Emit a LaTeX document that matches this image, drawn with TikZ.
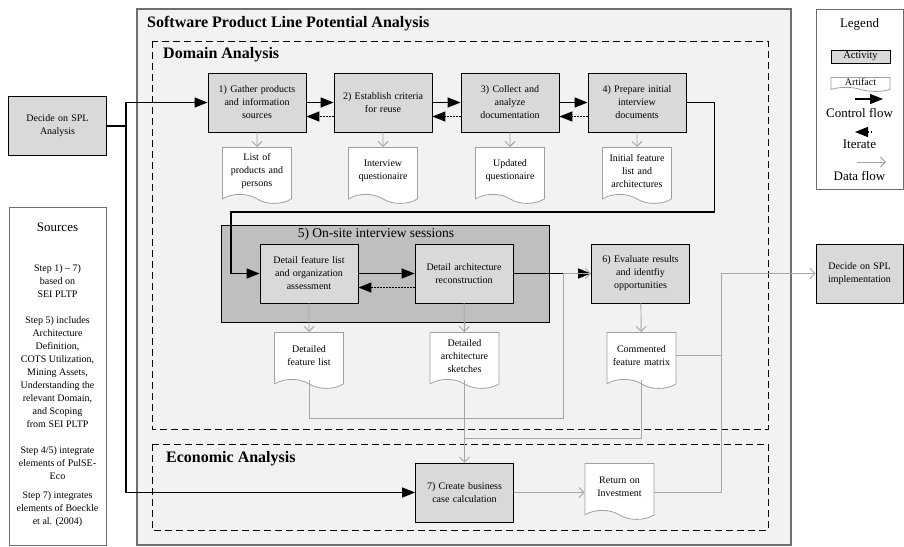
\documentclass[tikz,border=0pt]{standalone}
\usepackage{fontspec}
\setmainfont{Liberation Serif}
\usetikzlibrary{arrows.meta,shapes.symbols}
\definecolor{panelgray}{RGB}{242,242,242}
\definecolor{actgray}{RGB}{217,217,217}
\definecolor{sessgray}{RGB}{191,191,191}
\definecolor{flowgray}{RGB}{166,166,166}
\definecolor{docgray}{RGB}{160,160,160}
\definecolor{framegray}{RGB}{110,110,110}
\tikzstyle{activity} = [draw, fill=actgray, line width=.8pt, minimum width=98pt, minimum height=59pt, text width=94pt, align=center, inner sep=1pt, font=\fontsize{10}{13}\selectfont]
\tikzstyle{artifact} = [draw=docgray, fill=white, line width=.8pt, tape, tape bend top=none, tape bend bottom=out and in, tape bend height=9pt, minimum width=69pt, minimum height=56pt, text width=67pt, align=center, inner sep=1pt, font=\fontsize{10}{13}\selectfont]
\tikzstyle{ctrl} = [line width=1.2pt, -{Triangle[length=13pt,width=10pt]}]
\tikzstyle{iter} = [line width=1.2pt, dash pattern=on 1.5pt off 1.5pt, -{Triangle[length=13pt,width=10pt]}]
\tikzstyle{data} = [draw=flowgray, line width=.9pt, -{Straight Barb[length=5pt,width=10pt]}]
\tikzstyle{dline} = [draw=flowgray, line width=.9pt]
\tikzstyle{area} = [line width=.8pt, dash pattern=on 7pt off 4pt]
\tikzstyle{heading} = [anchor=west, inner sep=0pt, font=\fontsize{16}{18}\selectfont\bfseries]
\tikzstyle{legtext} = [inner sep=0pt, font=\fontsize{13}{15}\selectfont]

\begin{document}
\begin{tikzpicture}[x=1pt,y=-1pt]
    \useasboundingbox (0,0) rectangle (904,546);
    % panels
    \draw[fill=panelgray, draw=framegray, line width=1.5pt] (137,9) rectangle (791,545);
    \draw[area] (152,41) rectangle (768,429);
    \draw[area] (152,444) rectangle (768,530);
    \draw[fill=sessgray, line width=.8pt] (221,225) rectangle (549,322);
    \draw (147,24) node[heading] (spl) {Software Product Line Potential Analysis};
    \draw (163,55) node[heading] (dom) {Domain Analysis};
    \draw (166,459) node[heading] (eco) {Economic Analysis};
    \draw (376,234) node[inner sep=0pt, font=\fontsize{13.5}{15}\selectfont] (s5) {5) On-site interview sessions};

    % activities
    \draw (57.5,126) node[activity] (dec1) {Decide on SPL\\Analysis};
    \draw (257,102.5) node[activity] (a1) {1) Gather products\\and information\\sources};
    \draw (383,102.5) node[activity] (a2) {2) Establish criteria\\for reuse};
    \draw (510,102.5) node[activity] (a3) {3) Collect and\\analyze\\documentation};
    \draw (637,102.5) node[activity] (a4) {4) Prepare initial\\interview\\documents};
    \draw (309,273.5) node[activity] (a5a) {Detail feature list\\and organization\\assessment};
    \draw (464,273.5) node[activity] (a5b) {Detail architecture\\reconstruction};
    \draw (640.5,273.5) node[activity] (a6) {6) Evaluate results\\and identfiy\\opportunities};
    \draw (464.5,492.5) node[activity] (a7) {7) Create business\\case calculation};
    \draw (859.5,273.5) node[activity, minimum width=87pt, text width=85pt] (dec2) {Decide on SPL\\implementation};

    % artifacts
    \draw (257,147) node[artifact, anchor=north] (d1) {List of\\products and\\persons};
    \draw (383,147) node[artifact, anchor=north] (d2) {Interview\\questionaire};
    \draw (510,147) node[artifact, anchor=north] (d3) {Updated\\questionaire};
    \draw (637,147) node[artifact, anchor=north] (d4) {Initial feature\\list and\\architectures};
    \draw (309,332) node[artifact, anchor=north] (d5) {Detailed\\feature list};
    \draw (464.5,332) node[artifact, anchor=north] (d6) {Detailed\\architecture\\sketches};
    \draw (641.5,332) node[artifact, anchor=north] (d7) {Commented\\feature matrix};
    \draw (619.5,463) node[artifact, anchor=north, minimum width=67pt] (roi) {Return on\\Investment};

    % control flow
    \draw[ctrl] (dec1.east) -- ++(19,0) |- (a1.west);
    \draw[ctrl] (dec1.east) -- ++(19,0) |- (a7.west);
    \draw[ctrl] (a1) -- (a2);
    \draw[ctrl] (a2) -- (a3);
    \draw[ctrl] (a3) -- (a4);
    \draw[ctrl] (a4.east) -- ++(28,0) |- (231,212) |- (a5a.west);
    \draw[ctrl] (a5a) -- (a5b);
    \draw[ctrl] (a5b) -- (a6);
    \draw[iter] ([yshift=-14pt]a2.west) -- ([yshift=-14pt]a1.east);
    \draw[iter] ([yshift=-14pt]a3.west) -- ([yshift=-14pt]a2.east);
    \draw[iter] ([yshift=-14pt]a4.west) -- ([yshift=-14pt]a3.east);
    \draw[iter] ([yshift=-14pt]a5b.west) -- ([yshift=-14pt]a5a.east);

    % data flow
    \draw[data] (a1) -- (d1);
    \draw[data] (a2) -- (d2);
    \draw[data] (a3) -- (d3);
    \draw[data] (a4) -- (d4);
    \draw[data] (a5a) -- (d5);
    \draw[data] (a5b) -- (d6);
    \draw[data] (a6) -- (d7);
    \draw[data] (d5.south) |- (563,418) |- (a6.west);
    \draw[data] (d6.south) -- (a7.north);
    \draw[dline] (d7.south) |- (464.5,438);
    \draw[data] (a7.east) -- (a7.east -| roi.west);
    \draw[data] (a7.east -| roi.east) -| (721,300) |- (dec2.west);
    \draw[dline] (d7.east) -- (d7.east -| 721,0);

    % sources
    \draw (57.5,376) node[draw=framegray, line width=1pt, minimum width=97pt, minimum height=338pt] (src) {};
    \draw (57.5,227) node[legtext] (srct) {Sources};
    \draw (57.5,396) node[inner sep=0pt, align=center, font=\fontsize{10}{13}\selectfont] (srcx)
        {Step 1) -- 7)\\based on\\SEI PLTP\\[13pt]Step 5) includes\\Architecture\\Definition,\\COTS Utilization,\\Mining Assets,\\Understanding the\\relevant Domain,\\and Scoping\\from SEI PLTP\\[13pt]Step 4/5) integrate\\elements of PulSE-\\Eco\\[6pt]Step 7) integrates\\elements of Boeckle\\et al. (2004)};

    % legend
    \draw (859.5,99) node[draw=framegray, line width=1pt, minimum width=87pt, minimum height=180pt] (leg) {};
    \draw (859.5,24) node[legtext] (legt) {Legend};
    \draw (860.5,56.5) node[activity, minimum width=59pt, minimum height=13pt, text width=57pt, font=\fontsize{10.5}{12}\selectfont] (lact) {Activity};
    \draw (860.5,77) node[artifact, anchor=north, minimum width=59pt, minimum height=14pt, text width=57pt, tape bend height=4pt, font=\fontsize{10}{11}\selectfont] (lart) {Artifact};
    \coordinate (c1) at (855,99);
    \coordinate (c2) at (883,99);
    \draw[ctrl] (c1) -- (c2);
    \draw (859.5,113) node[legtext] (lctrl) {Control flow};
    \coordinate (i1) at (872,132);
    \coordinate (i2) at (855,132);
    \draw[iter] (i1) -- (i2);
    \draw (859.5,144) node[legtext] (liter) {Iterate};
    \coordinate (f1) at (857,162);
    \coordinate (f2) at (886,162);
    \draw[data] (f1) -- (f2);
    \draw (859.5,176) node[legtext] (lflow) {Data flow};
\end{tikzpicture}
\end{document}
